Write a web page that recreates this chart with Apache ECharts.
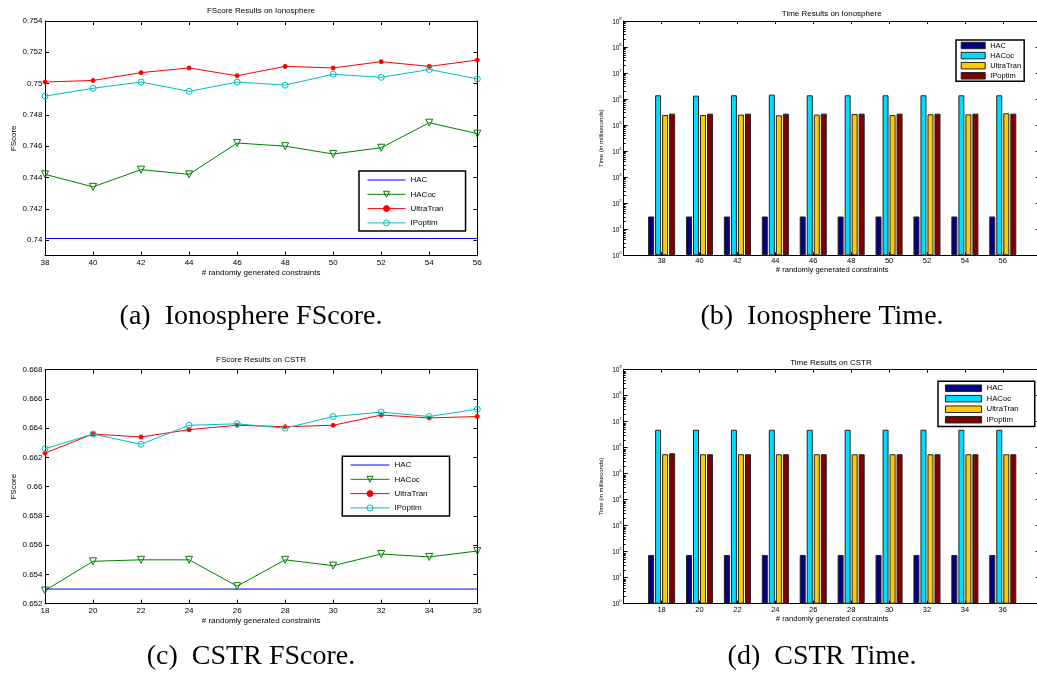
<!DOCTYPE html>
<html>
<head>
<meta charset="utf-8">
<script src="https://cdn.jsdelivr.net/npm/echarts@6/dist/echarts.min.js"></script>
<style>
  html, body { margin: 0; padding: 0; background: #fff; }
  #chart { width: 1037px; height: 683px; }
</style>
</head>
<body>
<div id="chart"></div>
<script>
// ---- data ----
const ionoConstraints = [38, 40, 42, 44, 46, 48, 50, 52, 54, 56];
const cstrConstraints = [18, 20, 22, 24, 26, 28, 30, 32, 34, 36];
const methods = ['HAC', 'HACoc', 'UltraTran', 'IPoptim'];

// FScore, Ionosphere
const ionoFsHAC       = [0.7401, 0.7401, 0.7401, 0.7401, 0.7401, 0.7401, 0.7401, 0.7401, 0.7401, 0.7401];
const ionoFsHACoc     = [0.7442, 0.7434, 0.7445, 0.7442, 0.7462, 0.7460, 0.7455, 0.7459, 0.7475, 0.7468];
const ionoFsUltraTran = [0.7501, 0.7502, 0.7507, 0.7510, 0.7505, 0.7511, 0.7510, 0.7514, 0.7511, 0.7515];
const ionoFsIPoptim   = [0.7492, 0.7497, 0.7501, 0.7495, 0.7501, 0.7499, 0.7506, 0.7504, 0.7509, 0.7503];

// FScore, CSTR
const cstrFsHAC       = [0.6530, 0.6530, 0.6530, 0.6530, 0.6530, 0.6530, 0.6530, 0.6530, 0.6530, 0.6530];
const cstrFsHACoc     = [0.6529, 0.6549, 0.6550, 0.6550, 0.6532, 0.6550, 0.6546, 0.6554, 0.6552, 0.6556];
const cstrFsUltraTran = [0.6623, 0.6636, 0.6634, 0.6639, 0.6642, 0.6641, 0.6642, 0.6649, 0.6647, 0.6648];
const cstrFsIPoptim   = [0.6626, 0.6636, 0.6629, 0.6642, 0.6643, 0.6640, 0.6648, 0.6651, 0.6648, 0.6653];

// Time in milliseconds, Ionosphere
const ionoTimeHAC       = [31, 31, 31, 31, 31, 31, 31, 31, 31, 31];
const ionoTimeHACoc     = [1.40e6, 1.36e6, 1.40e6, 1.48e6, 1.40e6, 1.40e6, 1.40e6, 1.40e6, 1.40e6, 1.40e6];
const ionoTimeUltraTran = [2.45e5, 2.45e5, 2.53e5, 2.39e5, 2.53e5, 2.68e5, 2.45e5, 2.60e5, 2.60e5, 2.85e5];
const ionoTimeIPoptim   = [2.76e5, 2.76e5, 2.76e5, 2.76e5, 2.76e5, 2.76e5, 2.76e5, 2.76e5, 2.76e5, 2.76e5];

// Time in milliseconds, CSTR
const cstrTimeHAC       = [75, 75, 75, 75, 75, 75, 75, 75, 75, 75];
const cstrTimeHACoc     = [4.9e6, 4.9e6, 4.9e6, 4.9e6, 4.9e6, 4.9e6, 4.9e6, 4.9e6, 4.9e6, 4.9e6];
const cstrTimeUltraTran = [5.6e5, 5.6e5, 5.6e5, 5.6e5, 5.6e5, 5.6e5, 5.6e5, 5.6e5, 5.6e5, 5.6e5];
const cstrTimeIPoptim   = [6.1e5, 5.6e5, 5.6e5, 5.6e5, 5.6e5, 5.6e5, 5.6e5, 5.6e5, 5.6e5, 5.6e5];

// tick labels
const ionoFsTicks = [0.740, 0.742, 0.744, 0.746, 0.748, 0.750, 0.752, 0.754];
const cstrFsTicks = [0.652, 0.654, 0.656, 0.658, 0.660, 0.662, 0.664, 0.666, 0.668];
const timeTicks = [1, 10, 100, 1e3, 1e4, 1e5, 1e6, 1e7, 1e8, 1e9];

// ---- styling ----
const SANS = '"Liberation Sans", Arial, Helvetica, sans-serif';
const SERIF = '"Liberation Serif", "Times New Roman", serif';

const lineLook = {
  HAC:       { color: '#0000ff', symbol: 'none',     size: 0, rotate: 0,   fill: '#0000ff' },
  HACoc:     { color: '#008000', symbol: 'triangle', size: 7, rotate: 180, fill: 'rgba(255,255,255,0)' },
  UltraTran: { color: '#ff0000', symbol: 'circle',   size: 4, rotate: 0,   fill: '#ff0000' },
  IPoptim:   { color: '#00bfbf', symbol: 'circle',   size: 6, rotate: 0,   fill: 'rgba(255,255,255,0)' }
};
const barColors = { HAC: '#00008b', HACoc: '#00dcff', UltraTran: '#ffcc00', IPoptim: '#800000' };

// minor ticks of the log axis: 2..9 inside each decade
const timeMinorTicks = [];
timeTicks.slice(0, -1).forEach(d => { for (let k = 2; k <= 9; k++) timeMinorTicks.push(k * d); });

const fmtScore = v => String(parseFloat(v.toFixed(3)));
const fmtPow = v => '{b|10}{s|' + Math.round(Math.log10(v)) + '}';

const grids = [];
const xAxes = [];
const yAxes = [];
const series = [];
const legends = [];

function inTick(len, values) {
  const t = { show: true, inside: true, length: len, lineStyle: { color: '#000', width: 1 } };
  if (values) t.customValues = values;
  return t;
}
const blackLine = { show: true, lineStyle: { color: '#000', width: 1 } };

// line panel: FScore vs constraints
function scorePanel(key, box, xs, yMin, yMax, yTicks, values, legendBox) {
  const g = grids.length;
  grids.push({ left: box.left, top: box.top, width: box.width, height: box.height,
               containLabel: false, outerBoundsMode: 'none' });
  const xi = xAxes.length;
  xAxes.push({
    type: 'value', gridIndex: g, position: 'bottom', min: xs[0], max: xs[xs.length - 1], interval: 2,
    axisLine: blackLine, axisTick: inTick(4), splitLine: { show: false },
    axisLabel: { color: '#000', fontFamily: SANS, fontSize: 8, margin: 3.5, showMinLabel: true, showMaxLabel: true },
    name: '# randomly generated constraints', nameLocation: 'middle', nameGap: 13.5,
    nameTextStyle: { color: '#000', fontFamily: SANS, fontSize: 8 }
  });
  xAxes.push({
    type: 'value', gridIndex: g, position: 'top', min: xs[0], max: xs[xs.length - 1], interval: 2,
    axisLine: blackLine, axisTick: inTick(4), axisLabel: { show: false }, splitLine: { show: false }
  });
  const yi = yAxes.length;
  yAxes.push({
    type: 'value', gridIndex: g, position: 'left', min: yMin, max: yMax,
    axisLine: blackLine, axisTick: inTick(4, yTicks), splitLine: { show: false },
    axisLabel: { color: '#000', fontFamily: SANS, fontSize: 8, margin: 2.5, customValues: yTicks, formatter: fmtScore },
    name: 'FScore', nameLocation: 'middle', nameGap: 27,
    nameTextStyle: { color: '#000', fontFamily: SANS, fontSize: 8 }
  });
  yAxes.push({
    type: 'value', gridIndex: g, position: 'right', min: yMin, max: yMax,
    axisLine: blackLine, axisTick: inTick(4, yTicks), axisLabel: { show: false }, splitLine: { show: false }
  });
  methods.forEach((m, i) => {
    const lk = lineLook[m];
    series.push({
      type: 'line', name: key + '|' + m, xAxisIndex: xi, yAxisIndex: yi,
      data: xs.map((x, j) => [x, values[i][j]]),
      symbol: lk.symbol, symbolSize: lk.size, symbolRotate: lk.rotate, showSymbol: lk.symbol !== 'none',
      lineStyle: { color: lk.color, width: 1 },
      itemStyle: { color: lk.fill, borderColor: lk.color, borderWidth: 1 },
      emphasis: { disabled: true }, animation: false, z: 3 + i
    });
  });
  legends.push({
    orient: 'vertical', left: legendBox.left, top: legendBox.top, padding: legendBox.padding,
    itemWidth: legendBox.itemWidth, itemHeight: 7.5, itemGap: 6.3,
    borderColor: '#000', borderWidth: 1.5, backgroundColor: '#fff', selectedMode: false,
    lineStyle: { width: 1 },
    itemStyle: { borderWidth: 1 },
    textStyle: { color: '#000', fontFamily: SANS, fontSize: 8, lineHeight: 8 },
    data: methods.map(m => (lineLook[m].symbol === 'none'
      ? { name: key + '|' + m, itemStyle: { color: 'rgba(0,0,0,0)', borderColor: 'rgba(0,0,0,0)', opacity: 0 } }
      : { name: key + '|' + m })),
    formatter: n => n.split('|')[1]
  });
}

// bar panel: run time vs constraints, log scale
function timePanel(key, box, xs, values, legendBox, nameGapX, labelMargin) {
  const g = grids.length;
  grids.push({ left: box.left, top: box.top, width: box.width, height: box.height,
               containLabel: false, outerBoundsMode: 'none' });
  const step = xs[1] - xs[0];
  const xMin = xs[0] - step, xMax = xs[xs.length - 1] + step;
  const xi = xAxes.length;
  xAxes.push({
    type: 'value', gridIndex: g, position: 'bottom', min: xMin, max: xMax, interval: step,
    axisLine: blackLine, axisTick: inTick(3, xs), splitLine: { show: false },
    axisLabel: { color: '#000', fontFamily: SANS, fontSize: 7.5, margin: labelMargin, customValues: xs },
    name: '# randomly generated constraints', nameLocation: 'middle', nameGap: nameGapX,
    nameTextStyle: { color: '#000', fontFamily: SANS, fontSize: 7.6 }
  });
  xAxes.push({
    type: 'value', gridIndex: g, position: 'top', min: xMin, max: xMax, interval: step,
    axisLine: blackLine, axisTick: inTick(3, xs), axisLabel: { show: false }, splitLine: { show: false }
  });
  const yi = yAxes.length;
  yAxes.push({
    type: 'log', logBase: 10, gridIndex: g, position: 'left', min: 1, max: 1e9,
    axisLine: blackLine, axisTick: inTick(4, timeTicks), splitLine: { show: false },
    axisLabel: {
      color: '#000', fontFamily: SANS, margin: 2, customValues: timeTicks, formatter: fmtPow,
      rich: {
        b: { fontSize: 6.5, fontFamily: SANS, color: '#000', verticalAlign: 'bottom', lineHeight: 9 },
        s: { fontSize: 4.2, fontFamily: SANS, color: '#000', verticalAlign: 'top', lineHeight: 9 }
      }
    },
    name: 'Time (in milliseconds)', nameLocation: 'middle', nameGap: 19,
    nameTextStyle: { color: '#000', fontFamily: SANS, fontSize: 6 }
  });
  yAxes.push({
    type: 'log', logBase: 10, gridIndex: g, position: 'left', min: 1, max: 1e9,
    axisLine: { show: false }, axisTick: inTick(2, timeMinorTicks),
    axisLabel: { show: false }, splitLine: { show: false }
  });
  yAxes.push({
    type: 'log', logBase: 10, gridIndex: g, position: 'right', min: 1, max: 1e9,
    axisLine: blackLine, axisTick: inTick(5, timeTicks), axisLabel: { show: false }, splitLine: { show: false }
  });
  methods.forEach((m, i) => {
    series.push({
      type: 'bar', name: key + '|' + m, xAxisIndex: xi, yAxisIndex: yi,
      data: xs.map((x, j) => [x, values[i][j]]),
      barWidth: 6, barGap: '17%',
      itemStyle: { color: barColors[m], borderColor: '#222', borderWidth: 1 },
      emphasis: { disabled: true }, animation: false
    });
  });
  legends.push({
    orient: 'vertical', left: legendBox.left, top: legendBox.top, padding: legendBox.padding,
    itemWidth: legendBox.itemWidth, itemHeight: legendBox.itemHeight, itemGap: legendBox.itemGap,
    icon: 'rect', borderColor: '#000', borderWidth: 1.5, backgroundColor: '#fff', selectedMode: false,
    itemStyle: { borderColor: '#222', borderWidth: 1 },
    textStyle: { color: '#000', fontFamily: SANS, fontSize: legendBox.fontSize, lineHeight: legendBox.itemHeight },
    data: methods.map(m => key + '|' + m), formatter: n => n.split('|')[1]
  });
}

scorePanel('a', { left: 45, top: 21, width: 432.3, height: 234.7 }, ionoConstraints, 0.739, 0.754, ionoFsTicks,
  [ionoFsHAC, ionoFsHACoc, ionoFsUltraTran, ionoFsIPoptim],
  { left: 359, top: 171, padding: [5, 22, 4, 8], itemWidth: 38 });
timePanel('b', { left: 623.7, top: 21, width: 417, height: 234.3 }, ionoConstraints,
  [ionoTimeHAC, ionoTimeHACoc, ionoTimeUltraTran, ionoTimeIPoptim],
  { left: 956, top: 40, padding: [1.5, 3, 1.5, 4.7], itemWidth: 24, itemHeight: 6.5, itemGap: 2.1, fontSize: 7.5 }, 8.5, 2);
scorePanel('c', { left: 45, top: 369.7, width: 432.3, height: 234 }, cstrConstraints, 0.652, 0.668, cstrFsTicks,
  [cstrFsHAC, cstrFsHACoc, cstrFsUltraTran, cstrFsIPoptim],
  { left: 342.3, top: 456.3, padding: [4.7, 22, 4, 7.7], itemWidth: 39 });
timePanel('d', { left: 623.7, top: 369.7, width: 417, height: 234 }, cstrConstraints,
  [cstrTimeHAC, cstrTimeHACoc, cstrTimeUltraTran, cstrTimeIPoptim],
  { left: 938, top: 381.3, padding: [2.9, 16, 2.8, 7], itemWidth: 36, itemHeight: 6.5, itemGap: 2.5, fontSize: 7.8 }, 9.5, 2);

function label(text, x, y, font, size) {
  return {
    type: 'text', x: x, y: y, silent: true,
    style: { text: text, fill: '#000', font: size + 'px ' + font,
             align: 'center', verticalAlign: 'middle', textAlign: 'center', textVerticalAlign: 'middle' }
  };
}

const graphics = [
  label('FScore Results on Ionosphere', 261, 11, SANS, 8),
  label('Time Results on Ionosphere', 831.7, 13.7, SANS, 8),
  label('FScore Results on CSTR', 261, 360, SANS, 8),
  label('Time Results on CSTR', 831, 362.7, SANS, 8),
  label('(a)\u2002Ionosphere FScore.', 251, 317, SERIF, 28),
  label('(b)\u2002Ionosphere Time.', 822, 317, SERIF, 28),
  label('(c)\u2002CSTR FScore.', 251, 657, SERIF, 28),
  label('(d)\u2002CSTR Time.', 822, 657, SERIF, 28)
];

const chart = echarts.init(document.getElementById('chart'), null, { renderer: 'canvas' });
chart.setOption({
  backgroundColor: '#fff',
  animation: false,
  grid: grids,
  xAxis: xAxes,
  yAxis: yAxes,
  legend: legends,
  series: series,
  graphic: graphics
});
</script>
</body>
</html>
